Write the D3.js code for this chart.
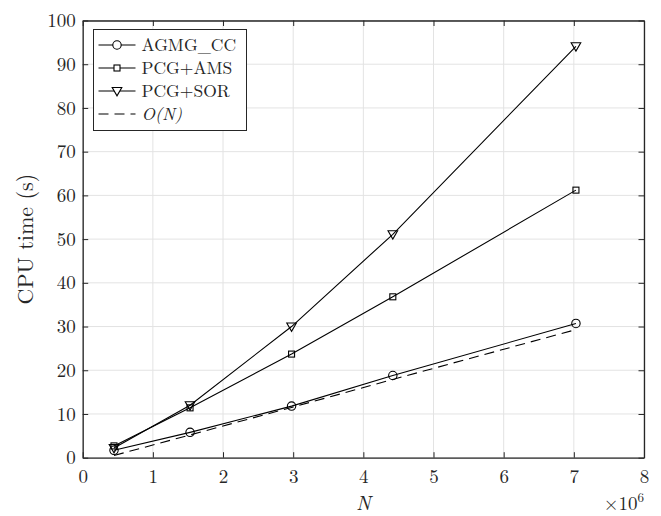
<!DOCTYPE html>
<html>
<head>
<meta charset="utf-8">
<script src="https://cdn.jsdelivr.net/npm/d3@7"></script>
<style>
  body { margin: 0; background: #fff; }
  text { font-family: "Latin Modern Roman", "CMU Serif", "DejaVu Serif", serif; fill: #262626; }
</style>
</head>
<body>
<script>
const width = 661;
const height = 516;

// N values (in units of 1e6)
const nValues = [0.446, 1.53, 2.977, 4.42, 7.03];
const agmg = [1.7, 5.8, 11.8, 18.8, 30.7];
const pcgAms = [2.7, 11.4, 23.7, 36.8, 61.2];
const pcgSor = [2.2, 12.0, 30.0, 51.1, 94.1];
const orderN = [0.5, 5.2, 11.5, 17.9, 29.3];

const xTicks = [0, 1, 2, 3, 4, 5, 6, 7, 8];
const yTicks = [0, 10, 20, 30, 40, 50, 60, 70, 80, 90, 100];

const series = [
  { name: "AGMG_CC", values: agmg, marker: "circle", dash: null },
  { name: "PCG+AMS", values: pcgAms, marker: "square", dash: null },
  { name: "PCG+SOR", values: pcgSor, marker: "triangle", dash: null },
  { name: "O(N)", values: orderN, marker: null, dash: "10,6" },
];

const margin = { left: 82.7, right: 17, top: 20.5, bottom: 58.3 };
const iw = width - margin.left - margin.right;
const ih = height - margin.top - margin.bottom;

const svg = d3
  .select("body")
  .append("svg")
  .attr("width", width)
  .attr("height", height);

const x = d3.scaleLinear().domain([0, 8]).range([margin.left, margin.left + iw]);
const y = d3.scaleLinear().domain([0, 100]).range([margin.top + ih, margin.top]);

// grid
svg
  .append("g")
  .selectAll("line")
  .data(xTicks)
  .join("line")
  .attr("x1", (d) => x(d))
  .attr("x2", (d) => x(d))
  .attr("y1", margin.top)
  .attr("y2", margin.top + ih)
  .attr("stroke", "#e3e3e3")
  .attr("stroke-width", 1);

svg
  .append("g")
  .selectAll("line")
  .data(yTicks)
  .join("line")
  .attr("x1", margin.left)
  .attr("x2", margin.left + iw)
  .attr("y1", (d) => y(d))
  .attr("y2", (d) => y(d))
  .attr("stroke", "#e3e3e3")
  .attr("stroke-width", 1);

// axes (ticks inward, mirrored)
const tick = 5.5;
const axisColor = "#262626";

svg
  .append("g")
  .attr("transform", `translate(0,${margin.top + ih})`)
  .call(d3.axisBottom(x).tickValues(xTicks).tickSizeInner(-tick).tickSizeOuter(0).tickPadding(12))
  .call((g) => g.selectAll("text").attr("font-size", 19).attr("dy", "0.71em"));

svg
  .append("g")
  .attr("transform", `translate(0,${margin.top})`)
  .call(d3.axisTop(x).tickValues(xTicks).tickSizeInner(-tick).tickSizeOuter(0).tickFormat(""));

svg
  .append("g")
  .attr("transform", `translate(${margin.left},0)`)
  .call(d3.axisLeft(y).tickValues(yTicks).tickSizeInner(-tick).tickSizeOuter(0).tickPadding(7))
  .call((g) => g.selectAll("text").attr("font-size", 19));

svg
  .append("g")
  .attr("transform", `translate(${margin.left + iw},0)`)
  .call(d3.axisRight(y).tickValues(yTicks).tickSizeInner(-tick).tickSizeOuter(0).tickFormat(""));

svg.selectAll(".domain").attr("stroke", axisColor).attr("stroke-width", 1.3);
svg.selectAll(".tick line").attr("stroke", axisColor);
svg.selectAll(".tick text").attr("fill", axisColor);

// labels
svg
  .append("text")
  .attr("x", margin.left + iw / 2)
  .attr("y", 510)
  .attr("text-anchor", "middle")
  .attr("font-size", 20)
  .attr("font-style", "italic")
  .text("N");

const exp = svg
  .append("text")
  .attr("x", margin.left + iw)
  .attr("y", 510)
  .attr("text-anchor", "end")
  .attr("font-size", 19);
exp.append("tspan").text("×10");
exp.append("tspan").attr("font-size", 13).attr("dy", -8).text("6");

svg
  .append("text")
  .attr("transform", `translate(33,${margin.top + ih / 2}) rotate(-90)`)
  .attr("text-anchor", "middle")
  .attr("font-size", 22)
  .text("CPU time (s)");

// lines and markers
const line = d3
  .line()
  .x((d, i) => x(nValues[i]))
  .y((d) => y(d));

function drawMarker(g, type, cx, cy) {
  if (type === "circle") {
    g.append("circle").attr("cx", cx).attr("cy", cy).attr("r", 4.2);
  } else if (type === "square") {
    g.append("rect").attr("x", cx - 3).attr("y", cy - 3).attr("width", 6).attr("height", 6);
  } else if (type === "triangle") {
    g.append("path").attr("d", `M${cx - 4.8},${cy - 3.5}L${cx + 4.8},${cy - 3.5}L${cx},${cy + 4.8}Z`);
  }
}

series.forEach((s) => {
  svg
    .append("path")
    .datum(s.values)
    .attr("d", line)
    .attr("fill", "none")
    .attr("stroke", "#000")
    .attr("stroke-width", 1.1)
    .attr("stroke-dasharray", s.dash);
  if (s.marker) {
    const g = svg.append("g").attr("fill", "none").attr("stroke", "#000").attr("stroke-width", 1.1);
    s.values.forEach((v, i) => drawMarker(g, s.marker, x(nValues[i]), y(v)));
  }
});

// legend
const lg = svg.append("g").attr("transform", "translate(93.5,29.5)");
lg.append("rect")
  .attr("width", 153)
  .attr("height", 101)
  .attr("fill", "#fff")
  .attr("stroke", axisColor)
  .attr("stroke-width", 1);

series.forEach((s, i) => {
  const cy = 15.5 + i * 23;
  lg.append("line")
    .attr("x1", 5)
    .attr("x2", 42)
    .attr("y1", cy)
    .attr("y2", cy)
    .attr("stroke", "#000")
    .attr("stroke-width", 1.1)
    .attr("stroke-dasharray", s.dash);
  if (s.marker) {
    const g = lg.append("g").attr("fill", "#fff").attr("stroke", "#000").attr("stroke-width", 1.1);
    drawMarker(g, s.marker, 23.5, cy);
  }
  lg.append("text")
    .attr("x", 48)
    .attr("y", cy + 6)
    .attr("font-size", 17.5)
    .attr("font-style", s.name === "O(N)" ? "italic" : null)
    .text(s.name);
});
</script>
</body>
</html>
